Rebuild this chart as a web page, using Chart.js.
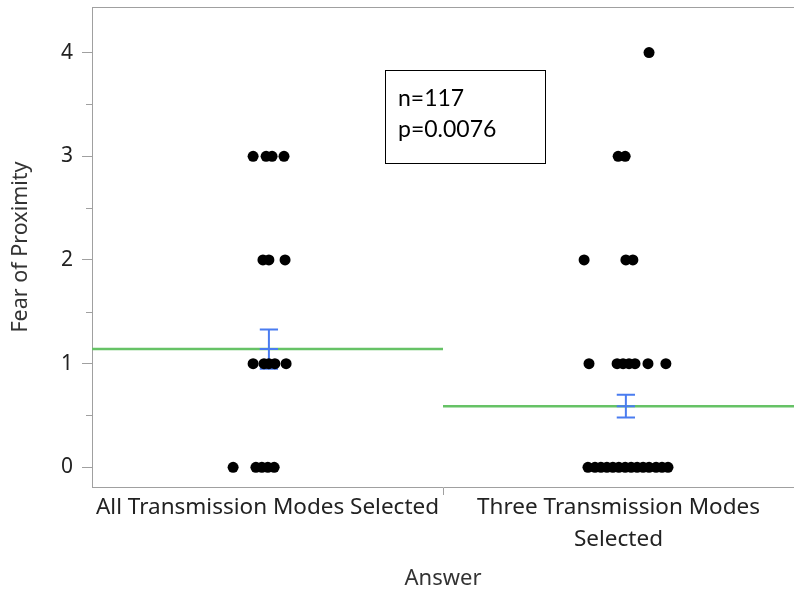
<!DOCTYPE html>
<html>
<head>
<meta charset="utf-8">
<script src="https://cdn.jsdelivr.net/npm/chart.js@4"></script>
<style>
  html, body { margin: 0; padding: 0; background: #fff; }
  #wrap { width: 794px; height: 590px; position: relative; }
  #note {
    position: absolute; left: 385px; top: 70px; width: 161px; height: 94px;
    border: 1px solid #000; box-sizing: border-box;
    font-family: Lato, "Noto Sans", sans-serif; font-size: 23px; color: #000;
    padding: 11px 0 0 12px; line-height: 31px;
  }
</style>
</head>
<body>
<div id="wrap">
  <canvas id="chart" width="794" height="590"></canvas>
  <div id="note">n=117<br>p=0.0076</div>
</div>
<script>
// categories (x positions are 0..1 and 1..2)
const categories = ['All Transmission Modes Selected', ['Three Transmission Modes', 'Selected']];

// group 1 points: jittered x, value
const allX = [0.459, 0.496, 0.513, 0.547, 0.487, 0.504, 0.550, 0.459, 0.490, 0.504, 0.521, 0.553, 0.402, 0.467, 0.484, 0.501, 0.519];
const allY = [3, 3, 3, 3, 2, 2, 2, 1, 1, 1, 1, 1, 0, 0, 0, 0, 0];

// group 2 points
const threeX = [1.587, 1.499, 1.519, 1.402, 1.521, 1.541, 1.416, 1.496, 1.513, 1.530, 1.547, 1.584, 1.635,
  1.413, 1.433, 1.450, 1.467, 1.484, 1.501, 1.519, 1.536, 1.553, 1.570, 1.587, 1.607, 1.624, 1.641];
const threeY = [4, 3, 3, 2, 2, 2, 1, 1, 1, 1, 1, 1, 1,
  0, 0, 0, 0, 0, 0, 0, 0, 0, 0, 0, 0, 0, 0];

// group means and standard errors
const means = [1.14, 0.59];
const stdErr = [0.19, 0.11];
const errX = [0.504, 1.521];
const capHalf = 0.026;

const yTicks = [0, 1, 2, 3, 4];

function pts(xs, ys) {
  return xs.map((x, i) => ({ x: x, y: ys[i] }));
}

function errorBarData(g) {
  const cx = errX[g], m = means[g], e = stdErr[g];
  const gap = { x: cx, y: null };
  return [
    { x: cx - capHalf, y: m + e }, { x: cx + capHalf, y: m + e }, gap,
    { x: cx, y: m + e }, { x: cx, y: m - e }, gap,
    { x: cx - capHalf, y: m }, { x: cx + capHalf, y: m }, gap,
    { x: cx - capHalf, y: m - e }, { x: cx + capHalf, y: m - e }
  ];
}

// half-unit minor ticks and the top frame line
const minorTicks = {
  id: 'minorTicks',
  afterDraw(chart) {
    const c = chart.ctx, y = chart.scales.y, a = chart.chartArea;
    c.save();
    c.strokeStyle = '#a0a0a0';
    c.lineWidth = 1;
    for (let v = 0.5; v < 4.5; v += 1) {
      const py = Math.round(y.getPixelForValue(v)) + 0.5;
      c.beginPath(); c.moveTo(a.left - 6, py); c.lineTo(a.left, py); c.stroke();
    }
    c.beginPath(); c.moveTo(a.left, a.top + 0.5); c.lineTo(a.right, a.top + 0.5); c.stroke();
    c.restore();
  }
};

const family = '"Noto Sans", "Open Sans", sans-serif';

new Chart(document.getElementById('chart'), {
  type: 'scatter',
  data: {
    datasets: [
      { data: pts(allX, allY), backgroundColor: '#000', borderWidth: 0, pointRadius: 5.5, pointHoverRadius: 5.5, order: 0 },
      { data: pts(threeX, threeY), backgroundColor: '#000', borderWidth: 0, pointRadius: 5.5, pointHoverRadius: 5.5, order: 0 },
      { type: 'line', data: errorBarData(0), borderColor: '#4a7cf0', borderWidth: 2, pointRadius: 0, spanGaps: false, order: 1 },
      { type: 'line', data: errorBarData(1), borderColor: '#4a7cf0', borderWidth: 2, pointRadius: 0, spanGaps: false, order: 1 },
      { type: 'line', data: [{ x: 0, y: means[0] }, { x: 1, y: means[0] }], borderColor: '#66c266', borderWidth: 2.5, pointRadius: 0, order: 2 },
      { type: 'line', data: [{ x: 1, y: means[1] }, { x: 2, y: means[1] }], borderColor: '#66c266', borderWidth: 2.5, pointRadius: 0, order: 2 }
    ]
  },
  options: {
    responsive: false,
    animation: false,
    layout: { autoPadding: false, padding: { top: 7, right: 0, left: 0, bottom: 0 } },
    plugins: { legend: { display: false }, tooltip: { enabled: false } },
    scales: {
      x: {
        type: 'linear', min: 0, max: 2.0,
        afterBuildTicks(scale) { scale.ticks = [{ value: 0.5 }, { value: 1 }, { value: 1.5 }]; },
        afterFit(scale) { scale.height = 103; scale.paddingLeft = 0; scale.paddingRight = 0; },
        ticks: {
          autoSkip: false, maxRotation: 0, minRotation: 0, color: '#222', padding: -3,
          font: { family: family, size: 22.5, lineHeight: 1.4 },
          callback: (v) => v === 0.5 ? categories[0] : (v === 1.5 ? categories[1] : '')
        },
        grid: {
          drawOnChartArea: false, tickLength: 8,
          tickColor: (ctx) => ctx.tick && ctx.tick.value === 1 ? '#a0a0a0' : 'rgba(0,0,0,0)'
        },
        border: { color: '#a0a0a0' },
        title: { display: true, text: 'Answer', color: '#333', font: { family: family, size: 22 }, padding: { top: 4, bottom: -2 } }
      },
      y: {
        min: -0.19, max: 4.44,
        afterBuildTicks(scale) { scale.ticks = yTicks.map(v => ({ value: v })); },
        afterFit(scale) { scale.width = 92; scale.paddingTop = 0; scale.paddingBottom = 0; },
        ticks: { color: '#222', font: { family: family, size: 21 }, padding: 9 },
        grid: { drawOnChartArea: false, tickLength: 10, tickColor: '#a0a0a0' },
        border: { color: '#a0a0a0' },
        title: { display: true, text: 'Fear of Proximity', color: '#333', font: { family: family, size: 21.5 }, padding: { top: 8, bottom: 6 } }
      }
    }
  },
  plugins: [minorTicks]
});
</script>
</body>
</html>
